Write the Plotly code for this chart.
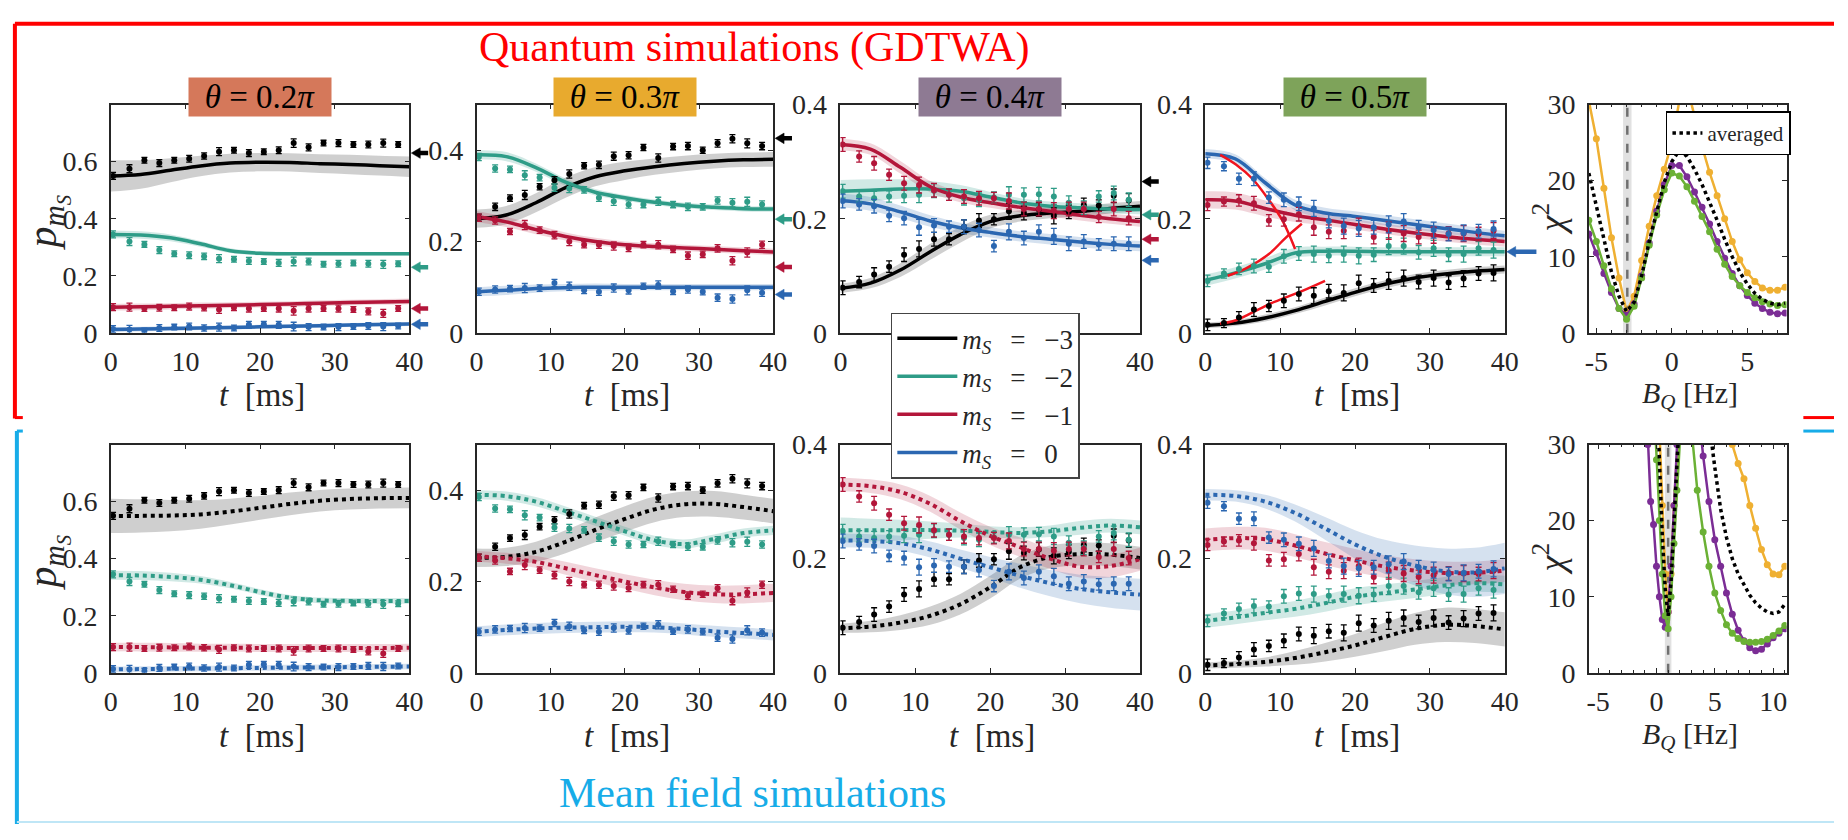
import plotly.graph_objects as go

W, H = 1848, 840
SERIF = "Liberation Serif, Times New Roman, serif"
AXC = "#262626"

# ---------------- data ----------------
t_exp = [0.3, 2.5, 4.5, 6.5, 8.5, 10.5, 12.5, 14.5, 16.5, 18.5, 20.5, 22.5, 24.5, 26.5, 28.5, 30.5, 32.5, 34.5, 36.5, 38.5]
t_th = [0, 4, 8, 12, 16, 20, 24, 28, 32, 36, 40]

# experiment, theta = 0.2 pi
exp_02_m3 = [0.55, 0.575, 0.605, 0.595, 0.605, 0.61, 0.62, 0.635, 0.64, 0.63, 0.635, 0.64, 0.665, 0.65, 0.665, 0.665, 0.66, 0.66, 0.665, 0.66]
exp_02_m2 = [0.345, 0.32, 0.31, 0.29, 0.277, 0.272, 0.268, 0.26, 0.258, 0.252, 0.25, 0.245, 0.25, 0.25, 0.24, 0.242, 0.245, 0.242, 0.24, 0.242]
exp_02_m1 = [0.09, 0.09, 0.085, 0.088, 0.088, 0.092, 0.088, 0.082, 0.088, 0.085, 0.085, 0.085, 0.077, 0.085, 0.085, 0.085, 0.082, 0.075, 0.068, 0.085]
exp_02_m0 = [0.013, 0.012, 0.006, 0.017, 0.02, 0.022, 0.017, 0.02, 0.017, 0.028, 0.03, 0.028, 0.022, 0.02, 0.02, 0.02, 0.022, 0.024, 0.022, 0.024]
err_02 = [0.012, 0.014, 0.01, 0.012, 0.01, 0.012, 0.011, 0.014, 0.01, 0.012, 0.01, 0.012, 0.015, 0.012, 0.01, 0.012, 0.01, 0.012, 0.014, 0.01]
# experiment, theta = 0.3 pi
exp_03_m3 = [0.252, 0.276, 0.295, 0.302, 0.32, 0.334, 0.348, 0.366, 0.368, 0.387, 0.389, 0.406, 0.383, 0.408, 0.409, 0.4, 0.415, 0.425, 0.415, 0.409]
exp_03_m2 = [0.385, 0.36, 0.358, 0.345, 0.34, 0.318, 0.316, 0.313, 0.296, 0.288, 0.281, 0.281, 0.288, 0.281, 0.276, 0.276, 0.29, 0.285, 0.287, 0.281]
exp_03_m1 = [0.252, 0.246, 0.222, 0.236, 0.225, 0.214, 0.2, 0.193, 0.193, 0.19, 0.186, 0.193, 0.193, 0.183, 0.169, 0.172, 0.185, 0.158, 0.176, 0.193]
exp_03_m0 = [0.09, 0.095, 0.097, 0.098, 0.098, 0.109, 0.102, 0.093, 0.09, 0.098, 0.093, 0.102, 0.105, 0.091, 0.095, 0.09, 0.077, 0.074, 0.093, 0.088]
err_03 = [0.008, 0.008, 0.007, 0.01, 0.007, 0.008, 0.009, 0.007, 0.008, 0.009, 0.008, 0.007, 0.009, 0.007, 0.008, 0.007, 0.008, 0.009, 0.01, 0.008]
# experiment, theta = 0.4 pi
exp_04_m3 = [0.079, 0.089, 0.102, 0.116, 0.137, 0.147, 0.164, 0.164, 0.186, 0.197, 0.199, 0.213, 0.21, 0.216, 0.205, 0.212, 0.224, 0.223, 0.24, 0.232]
exp_04_m2 = [0.248, 0.239, 0.236, 0.239, 0.24, 0.242, 0.249, 0.242, 0.236, 0.233, 0.237, 0.242, 0.242, 0.243, 0.239, 0.228, 0.219, 0.239, 0.245, 0.233]
exp_04_m1 = [0.33, 0.309, 0.297, 0.277, 0.262, 0.259, 0.25, 0.242, 0.239, 0.236, 0.236, 0.231, 0.217, 0.217, 0.214, 0.217, 0.217, 0.203, 0.217, 0.201]
exp_04_m0 = [0.231, 0.225, 0.222, 0.205, 0.201, 0.185, 0.188, 0.186, 0.186, 0.18, 0.152, 0.177, 0.166, 0.177, 0.169, 0.156, 0.16, 0.155, 0.156, 0.156]
err_04 = [0.012, 0.01, 0.012, 0.01, 0.012, 0.014, 0.012, 0.01, 0.012, 0.012, 0.01, 0.014, 0.012, 0.012, 0.014, 0.012, 0.012, 0.01, 0.012, 0.012]
# experiment, theta = 0.5 pi
exp_05_m3 = [0.014, 0.017, 0.027, 0.041, 0.047, 0.056, 0.068, 0.065, 0.073, 0.07, 0.087, 0.083, 0.091, 0.096, 0.089, 0.096, 0.088, 0.095, 0.104, 0.105]
exp_05_m2 = [0.091, 0.104, 0.112, 0.117, 0.116, 0.134, 0.139, 0.138, 0.135, 0.138, 0.135, 0.137, 0.152, 0.152, 0.141, 0.148, 0.137, 0.138, 0.148, 0.145]
exp_05_m1 = [0.224, 0.23, 0.232, 0.227, 0.197, 0.199, 0.208, 0.185, 0.177, 0.179, 0.187, 0.168, 0.179, 0.174, 0.168, 0.171, 0.174, 0.174, 0.173, 0.179]
exp_05_m0 = [0.298, 0.292, 0.27, 0.27, 0.237, 0.233, 0.226, 0.218, 0.196, 0.187, 0.183, 0.185, 0.19, 0.195, 0.185, 0.18, 0.173, 0.175, 0.178, 0.182]
err_05 = [0.01, 0.008, 0.01, 0.012, 0.01, 0.012, 0.012, 0.014, 0.012, 0.014, 0.014, 0.012, 0.015, 0.014, 0.012, 0.014, 0.012, 0.014, 0.012, 0.014]

# GDTWA (quantum) simulations: mean and half-width of band
gd_02_m3 = [0.55, 0.555, 0.57, 0.585, 0.595, 0.598, 0.597, 0.593, 0.59, 0.586, 0.582]
gd_02_m2 = [0.345, 0.343, 0.333, 0.312, 0.288, 0.279, 0.277, 0.277, 0.277, 0.277, 0.277]
gd_02_m1 = [0.09, 0.091, 0.093, 0.095, 0.097, 0.099, 0.101, 0.104, 0.106, 0.108, 0.11]
gd_02_m0 = [0.012, 0.013, 0.015, 0.017, 0.019, 0.021, 0.023, 0.025, 0.027, 0.029, 0.031]
gdw_02_m3 = [0.055, 0.05, 0.042, 0.036, 0.033, 0.032, 0.032, 0.033, 0.034, 0.035, 0.036]
gdw_02_m2 = [0.014, 0.013, 0.012, 0.01, 0.008, 0.007, 0.006, 0.006, 0.006, 0.006, 0.006]
gdw_02_m1 = [0.012, 0.012, 0.011, 0.011, 0.01, 0.01, 0.01, 0.01, 0.01, 0.01, 0.01]
gdw_02_m0 = [0.008, 0.008, 0.008, 0.007, 0.007, 0.007, 0.007, 0.007, 0.007, 0.007, 0.007]

gd_03_m3 = [0.25, 0.258, 0.285, 0.318, 0.342, 0.355, 0.364, 0.371, 0.376, 0.379, 0.38]
gd_03_m2 = [0.39, 0.386, 0.362, 0.33, 0.308, 0.296, 0.286, 0.279, 0.275, 0.272, 0.271]
gd_03_m1 = [0.255, 0.243, 0.226, 0.211, 0.2, 0.193, 0.189, 0.186, 0.183, 0.18, 0.177]
gd_03_m0 = [0.09, 0.093, 0.097, 0.099, 0.1, 0.1, 0.1, 0.1, 0.1, 0.1, 0.1]
gdw_03_m3 = [0.02, 0.02, 0.021, 0.022, 0.021, 0.02, 0.018, 0.017, 0.016, 0.016, 0.016]
gdw_03_m2 = [0.01, 0.01, 0.009, 0.008, 0.007, 0.006, 0.006, 0.006, 0.006, 0.006, 0.006]
gdw_03_m1 = [0.012, 0.011, 0.01, 0.009, 0.008, 0.007, 0.007, 0.007, 0.007, 0.007, 0.007]
gdw_03_m0 = [0.01, 0.01, 0.009, 0.008, 0.008, 0.007, 0.007, 0.007, 0.007, 0.007, 0.007]

gd_04_m3 = [0.078, 0.087, 0.11, 0.142, 0.172, 0.195, 0.205, 0.21, 0.213, 0.218, 0.222]
gd_04_m2 = [0.248, 0.25, 0.252, 0.252, 0.248, 0.238, 0.228, 0.222, 0.219, 0.217, 0.216]
gd_04_m1 = [0.33, 0.322, 0.29, 0.256, 0.238, 0.228, 0.22, 0.213, 0.206, 0.2, 0.195]
gd_04_m0 = [0.232, 0.226, 0.212, 0.196, 0.184, 0.176, 0.169, 0.164, 0.159, 0.155, 0.152]
gdw_04_m3 = [0.008, 0.009, 0.012, 0.014, 0.014, 0.012, 0.01, 0.009, 0.009, 0.009, 0.009]
gdw_04_m2 = [0.02, 0.019, 0.017, 0.014, 0.011, 0.009, 0.008, 0.008, 0.008, 0.008, 0.008]
gdw_04_m1 = [0.01, 0.01, 0.011, 0.01, 0.009, 0.009, 0.009, 0.009, 0.009, 0.009, 0.009]
gdw_04_m0 = [0.012, 0.012, 0.011, 0.01, 0.009, 0.009, 0.009, 0.009, 0.009, 0.009, 0.009]

gd_05_m3 = [0.013, 0.017, 0.026, 0.039, 0.055, 0.071, 0.085, 0.096, 0.103, 0.108, 0.111]
gd_05_m2 = [0.092, 0.105, 0.121, 0.14, 0.143, 0.143, 0.142, 0.142, 0.142, 0.142, 0.142]
gd_05_m1 = [0.233, 0.231, 0.218, 0.206, 0.198, 0.19, 0.182, 0.175, 0.169, 0.164, 0.16]
gd_05_m0 = [0.314, 0.305, 0.263, 0.224, 0.21, 0.204, 0.197, 0.19, 0.183, 0.176, 0.17]
gdw_05_m3 = [0.005, 0.005, 0.006, 0.006, 0.007, 0.007, 0.007, 0.007, 0.007, 0.007, 0.007]
gdw_05_m2 = [0.01, 0.01, 0.01, 0.009, 0.008, 0.008, 0.008, 0.008, 0.008, 0.008, 0.008]
gdw_05_m1 = [0.015, 0.015, 0.014, 0.012, 0.01, 0.009, 0.009, 0.009, 0.009, 0.009, 0.009]
gdw_05_m0 = [0.008, 0.008, 0.008, 0.009, 0.009, 0.009, 0.009, 0.009, 0.009, 0.009, 0.009]

# mean-field simulations: mean and half-width of band
mf_02_m3 = [0.55, 0.55, 0.551, 0.555, 0.565, 0.578, 0.592, 0.603, 0.609, 0.612, 0.613]
mf_02_m2 = [0.342, 0.341, 0.336, 0.326, 0.307, 0.283, 0.263, 0.254, 0.252, 0.252, 0.252]
mf_02_m1 = [0.09, 0.09, 0.089, 0.088, 0.088, 0.087, 0.087, 0.087, 0.087, 0.087, 0.088]
mf_02_m0 = [0.012, 0.013, 0.014, 0.015, 0.016, 0.017, 0.018, 0.019, 0.02, 0.021, 0.022]
mfw_02_m3 = [0.06, 0.058, 0.055, 0.05, 0.045, 0.042, 0.04, 0.038, 0.037, 0.036, 0.036]
mfw_02_m2 = [0.016, 0.016, 0.015, 0.013, 0.011, 0.01, 0.01, 0.01, 0.01, 0.01, 0.01]
mfw_02_m1 = [0.015, 0.015, 0.015, 0.014, 0.014, 0.014, 0.014, 0.014, 0.014, 0.014, 0.014]
mfw_02_m0 = [0.01, 0.01, 0.01, 0.01, 0.01, 0.01, 0.01, 0.01, 0.01, 0.01, 0.01]

mf_03_m3 = [0.252, 0.254, 0.265, 0.287, 0.313, 0.337, 0.358, 0.369, 0.37, 0.363, 0.354]
mf_03_m2 = [0.39, 0.387, 0.375, 0.354, 0.332, 0.31, 0.29, 0.282, 0.293, 0.306, 0.312]
mf_03_m1 = [0.255, 0.251, 0.243, 0.229, 0.214, 0.2, 0.187, 0.177, 0.172, 0.172, 0.175]
mf_03_m0 = [0.09, 0.094, 0.097, 0.099, 0.1, 0.101, 0.1, 0.096, 0.091, 0.087, 0.083]
mfw_03_m3 = [0.02, 0.02, 0.022, 0.025, 0.027, 0.028, 0.028, 0.028, 0.028, 0.027, 0.027]
mfw_03_m2 = [0.01, 0.01, 0.01, 0.01, 0.01, 0.01, 0.01, 0.01, 0.01, 0.01, 0.01]
mfw_03_m1 = [0.012, 0.012, 0.013, 0.014, 0.015, 0.016, 0.017, 0.018, 0.019, 0.02, 0.02]
mfw_03_m0 = [0.012, 0.012, 0.012, 0.012, 0.012, 0.012, 0.012, 0.012, 0.012, 0.012, 0.012]

mf_04_m3 = [0.078, 0.081, 0.088, 0.1, 0.12, 0.15, 0.185, 0.203, 0.208, 0.207, 0.201]
mf_04_m2 = [0.25, 0.25, 0.25, 0.25, 0.249, 0.247, 0.245, 0.248, 0.254, 0.258, 0.255]
mf_04_m1 = [0.33, 0.327, 0.317, 0.296, 0.266, 0.24, 0.22, 0.2, 0.186, 0.187, 0.199]
mf_04_m0 = [0.232, 0.231, 0.227, 0.216, 0.2, 0.185, 0.17, 0.157, 0.147, 0.141, 0.137]
mfw_04_m3 = [0.008, 0.01, 0.013, 0.016, 0.018, 0.02, 0.02, 0.02, 0.02, 0.02, 0.02]
mfw_04_m2 = [0.022, 0.02, 0.018, 0.015, 0.012, 0.01, 0.01, 0.01, 0.012, 0.012, 0.012]
mfw_04_m1 = [0.012, 0.012, 0.013, 0.014, 0.015, 0.016, 0.017, 0.018, 0.019, 0.02, 0.02]
mfw_04_m0 = [0.012, 0.012, 0.013, 0.014, 0.016, 0.018, 0.021, 0.023, 0.025, 0.027, 0.028]

mf_05_m3 = [0.013, 0.015, 0.019, 0.026, 0.036, 0.048, 0.063, 0.077, 0.084, 0.082, 0.076]
mf_05_m2 = [0.091, 0.097, 0.105, 0.112, 0.122, 0.133, 0.14, 0.146, 0.153, 0.157, 0.155]
mf_05_m1 = [0.233, 0.236, 0.234, 0.223, 0.209, 0.197, 0.186, 0.179, 0.175, 0.175, 0.179]
mf_05_m0 = [0.312, 0.31, 0.3, 0.28, 0.253, 0.225, 0.203, 0.188, 0.178, 0.176, 0.183]
mfw_05_m3 = [0.005, 0.006, 0.008, 0.012, 0.016, 0.02, 0.025, 0.028, 0.03, 0.03, 0.03]
mfw_05_m2 = [0.012, 0.012, 0.013, 0.014, 0.015, 0.015, 0.015, 0.015, 0.015, 0.015, 0.015]
mfw_05_m1 = [0.02, 0.02, 0.02, 0.02, 0.02, 0.02, 0.02, 0.02, 0.02, 0.02, 0.02]
mfw_05_m0 = [0.01, 0.01, 0.012, 0.015, 0.02, 0.025, 0.03, 0.035, 0.04, 0.043, 0.045]

# steady-state arrows (m=-3, -2, -1, 0)
arr_02 = [0.63, 0.23, 0.085, 0.03]
arr_03 = [0.426, 0.249, 0.144, 0.084]
arr_04 = [0.265, 0.207, 0.164, 0.127]
arr_05_m0 = 0.142

# short-time expansions (theta = 0.5 pi)
pt_t_m0 = [2, 4.1, 6.3, 8.6, 10.3, 12.0]
pt_v_m0 = [0.312, 0.295, 0.27, 0.231, 0.197, 0.147]
pt_t_m2 = [3, 5.45, 8.5, 10.7, 12.9]
pt_v_m2 = [0.1, 0.113, 0.138, 0.166, 0.191]
pt_t_m3 = [2, 4.1, 8.5, 12.9, 16]
pt_v_m3 = [0.016, 0.022, 0.05, 0.073, 0.091]

# chi^2 scans
bq_top = [-5.5, -5, -4.5, -4, -3.5, -3, -2.5, -2, -1.5, -1, -0.5, 0, 0.5, 1, 1.5, 2, 2.5, 3, 3.5, 4, 4.5, 5, 5.5, 6, 6.5, 7, 7.5]
chi_top_03 = [30.5, 25.5, 19, 12.5, 7.2, 2.8, 4.8, 9.5, 14, 18, 21.5, 25, 30.5, 32.5, 28.5, 24.5, 21.1, 18, 15, 12, 9.6, 7.9, 6.75, 5.9, 5.6, 5.6, 6.0]
chi_top_04 = [13, 10.5, 7.8, 5.3, 3.2, 2.3, 3.8, 7.5, 11.8, 16, 19.5, 22, 22, 20.5, 18.5, 16.5, 14.3, 12, 9.8, 7.8, 6.2, 4.9, 3.9, 3.2, 2.7, 2.5, 2.6]
chi_top_05 = [14.8, 12, 8.8, 5.8, 3.2, 1.8, 3.5, 7.2, 11.5, 15.5, 18.8, 21, 20.6, 19.2, 17.3, 15.3, 13.3, 11, 9, 7.4, 6.2, 5.3, 4.6, 4.1, 3.8, 3.6, 3.7]
chi_top_avg = [21, 16.5, 12, 8, 4.8, 2.8, 4, 7.5, 12, 16, 19.8, 22.5, 24, 23.2, 21.5, 19.5, 17.2, 14.8, 12.3, 10, 8, 6.4, 5.2, 4.4, 3.9, 3.7, 3.9]
bq_best_top = -2.95
bq_err_top = 0.28

bq_bot = [-1, -0.75, -0.5, -0.25, 0, 0.25, 0.5, 0.75, 1, 1.25, 1.5, 1.75, 2, 2.25, 2.5, 3, 3.5, 4, 4.5, 5, 5.5, 6, 6.5, 7, 7.5, 8, 8.5, 9, 9.5, 10, 10.5, 11]
chi_bot_03 = [80, 70, 62, 53, 45, 32, 22, 13, 8, 13, 22, 31, 40, 48, 55, 60, 58, 52, 46, 41, 36.5, 33, 30, 27.5, 25.5, 22, 19, 16.2, 14.2, 13, 12.9, 14]
chi_bot_04 = [40, 30, 22.5, 19.5, 14, 10, 7, 6, 8, 14, 22, 30, 38, 45, 50, 48, 36, 28.5, 22.5, 17.5, 14, 10.5, 7.7, 5.6, 4.2, 3.3, 2.9, 3.1, 3.8, 4.6, 5.2, 5.8]
chi_bot_05 = [60, 52, 44, 36, 28, 20, 13, 7.5, 5.8, 10, 17, 24, 31, 37, 40, 31.5, 24, 18.5, 14, 10.5, 8.2, 6.3, 5.2, 4.5, 4.1, 4.0, 4.0, 4.1, 4.4, 4.9, 5.5, 6.2]
chi_bot_avg = [70, 60, 52, 45, 40, 28, 18, 11, 7.5, 12, 20, 28, 36, 44, 50, 52, 45, 38, 33, 27, 21.5, 17.8, 15, 13, 11.5, 10.2, 9.2, 8.5, 8.0, 7.8, 8.0, 9.0]
bq_best_bot = 1.0
bq_err_bot = 0.28

theta_labels = ["0.2", "0.3", "0.4", "0.5"]
theta_colors = ["#D5785A", "#E8AA2E", "#8E7A93", "#7EA35A"]
species = ["m3", "m2", "m1", "m0"]
SP = "\u2002\u2009"
legend_names = [f"<i>m<sub>S</sub></i>{SP}={SP}−3", f"<i>m<sub>S</sub></i>{SP}={SP}−2",
                f"<i>m<sub>S</sub></i>{SP}={SP}−1", f"<i>m<sub>S</sub></i>{SP}={SP}0"]
col = {"m3": "#000000", "m2": "#2E9C87", "m1": "#B3163A", "m0": "#2B67B1"}
band = {"m3": "rgba(140,140,140,0.42)", "m2": "rgba(46,156,135,0.22)",
        "m1": "rgba(179,22,58,0.18)", "m0": "rgba(43,103,177,0.2)"}
chi_col = {"03": "#EFB032", "04": "#7B2D95", "05": "#6BB135"}

g = globals()
keys = ["02", "03", "04", "05"]
EXP = {k: {s: g[f"exp_{k}_{s}"] for s in species} for k in keys}
ERR = {k: g[f"err_{k}"] for k in keys}
GD = {k: {s: (g[f"gd_{k}_{s}"], g[f"gdw_{k}_{s}"]) for s in species} for k in keys}
MF = {k: {s: (g[f"mf_{k}_{s}"], g[f"mfw_{k}_{s}"]) for s in species} for k in keys}
ARR = {"02": arr_02, "03": arr_03, "04": arr_04}
YR = {"02": [0, 0.8], "03": [0, 0.5], "04": [0, 0.4], "05": [0, 0.4]}
YT = {"02": [0, 0.2, 0.4, 0.6], "03": [0, 0.2, 0.4], "04": [0, 0.2, 0.4], "05": [0, 0.2, 0.4]}
t_ticks = [0, 10, 20, 30, 40]

# ---------------- layout geometry (pixels) ----------------
cols = [(105, 407), (475, 775), (843, 1146), (1212, 1515), (1600, 1800)]
rows = [(93, 330), (446, 683)]


def px(x):
    return x / W


def py(y):
    return 1 - y / H


def aid(r, c):
    return r * 5 + c + 1


def xn(i):
    return "x" if i == 1 else f"x{i}"


def yn(i):
    return "y" if i == 1 else f"y{i}"


fig = go.Figure()
layout = {}
annotations = []
shapes = []

common = dict(showline=True, linecolor=AXC, linewidth=1.5, mirror="ticks", ticks="inside",
              ticklen=5, tickwidth=1.2, tickcolor=AXC, showgrid=False, zeroline=False,
              tickfont=dict(family=SERIF, size=28, color=AXC), fixedrange=True)

for r in range(2):
    for c in range(5):
        i = aid(r, c)
        xa = dict(common, domain=[px(cols[c][0]), px(cols[c][1])], anchor=yn(i), ticklabelstandoff=3)
        ya = dict(common, domain=[py(rows[r][1]), py(rows[r][0])], anchor=xn(i), ticklabelstandoff=6)
        if c < 4:
            k = keys[c]
            if r == 0 and c == 2:
                # middle labels are covered by the legend box in the original
                ttext = [str(t_ticks[0]), "", "", "", str(t_ticks[-1])]
            else:
                ttext = [str(v) for v in t_ticks]
            xa.update(range=[0, 40], tickvals=t_ticks, ticktext=ttext)
            ya.update(range=YR[k], tickvals=YT[k])
        else:
            if r == 0:
                xa.update(range=[-5.5, 7.6], tickvals=[-5, 0, 5], ticktext=["-5", "0", "5"])
            else:
                xa.update(range=[-5.8, 11.15], tickvals=[-5, 0, 5, 10], ticktext=["-5", "0", "5", "10"])
            xa.update(minor=dict(ticks="inside", dtick=1, ticklen=3, tickcolor=AXC))
            ya.update(range=[0, 30], tickvals=[0, 10, 20, 30])
        layout["xaxis" if i == 1 else f"xaxis{i}"] = xa
        layout["yaxis" if i == 1 else f"yaxis{i}"] = ya


def add_arrow(c, yref, yval, color, length, yspan):
    """Left-pointing arrow just right of panel column c, at data value yval."""
    tip = cols[c][1] + 2
    head = 9
    dy = 5.5 * yspan / (rows[0][1] - rows[0][0])
    shapes.append(dict(type="line", xref="paper", yref=yref, x0=px(tip + head - 1), x1=px(tip + length),
                       y0=yval, y1=yval, line=dict(color=color, width=4.5), layer="above"))
    path = (f"M {px(tip)},{yval} L {px(tip + head)},{yval + dy} "
            f"L {px(tip + head)},{yval - dy} Z")
    shapes.append(dict(type="path", xref="paper", yref=yref, path=path, fillcolor=color,
                       line=dict(color=color, width=0.5), layer="above"))


# ---------------- time-evolution panels ----------------
for r in range(2):
    for c in range(4):
        k = keys[c]
        i = aid(r, c)
        sim = GD[k] if r == 0 else MF[k]
        for s in species:
            m, w = sim[s]
            lo = [a - b for a, b in zip(m, w)]
            hi = [a + b for a, b in zip(m, w)]
            fig.add_trace(go.Scatter(x=t_th, y=lo, mode="lines", line=dict(width=0, shape="spline"),
                                     xaxis=xn(i), yaxis=yn(i), showlegend=False, hoverinfo="skip"))
            fig.add_trace(go.Scatter(x=t_th, y=hi, mode="lines", line=dict(width=0, shape="spline"),
                                     fill="tonexty", fillcolor=band[s],
                                     xaxis=xn(i), yaxis=yn(i), showlegend=False, hoverinfo="skip"))
        for j, s in enumerate(species):
            m, w = sim[s]
            fig.add_trace(go.Scatter(
                x=t_th, y=m, mode="lines",
                line=dict(color=col[s], width=3.5 if r == 0 else 4,
                          dash="solid" if r == 0 else "dot", shape="spline"),
                xaxis=xn(i), yaxis=yn(i), name=legend_names[j],
                showlegend=(r == 0 and c == 0), legend="legend"))
        if r == 0 and c == 3:
            for tt, vv in ((pt_t_m0, pt_v_m0), (pt_t_m2, pt_v_m2), (pt_t_m3, pt_v_m3)):
                fig.add_trace(go.Scatter(x=tt, y=vv, mode="lines",
                                         line=dict(color="#F0141E", width=2.5, shape="spline"),
                                         xaxis=xn(i), yaxis=yn(i), showlegend=False))
        for s in species:
            fig.add_trace(go.Scatter(
                x=t_exp, y=EXP[k][s], mode="markers",
                marker=dict(color=col[s], size=6),
                error_y=dict(type="data", array=ERR[k], color=col[s], thickness=1.3, width=3),
                xaxis=xn(i), yaxis=yn(i), showlegend=False))
        # arrows (top row only)
        if r == 0:
            span = YR[k][1] - YR[k][0]
            if c < 3:
                for j, s in enumerate(species):
                    add_arrow(c, yn(i), ARR[k][j], col[s], 17, span)
            else:
                add_arrow(c, yn(i), arr_05_m0, col["m0"], 30, span)

# ---------------- chi^2 panels ----------------
for r in range(2):
    i = aid(r, 4)
    bq = bq_top if r == 0 else bq_bot
    best, err = (bq_best_top, bq_err_top) if r == 0 else (bq_best_bot, bq_err_bot)
    shapes.append(dict(type="rect", xref=xn(i), yref=f"{yn(i)} domain", x0=best - err, x1=best + err,
                       y0=0, y1=1, fillcolor="rgba(200,200,200,0.55)", line=dict(width=0), layer="below"))
    shapes.append(dict(type="line", xref=xn(i), yref=f"{yn(i)} domain", x0=best, x1=best, y0=0, y1=1,
                       line=dict(color="#707070", width=2.5, dash="dash"), layer="below"))
    for k in ["03", "04", "05"]:
        yv = g[f"chi_{'top' if r == 0 else 'bot'}_{k}"]
        fig.add_trace(go.Scatter(x=bq, y=yv, mode="lines+markers",
                                 line=dict(color=chi_col[k], width=2.5),
                                 marker=dict(color=chi_col[k], size=7),
                                 xaxis=xn(i), yaxis=yn(i), showlegend=False))
    yv = chi_top_avg if r == 0 else chi_bot_avg
    fig.add_trace(go.Scatter(x=bq, y=yv, mode="lines", line=dict(color="black", width=3.5, dash="dot"),
                             xaxis=xn(i), yaxis=yn(i), name="averaged",
                             showlegend=(r == 0), legend="legend2"))

# ---------------- texts ----------------
for c in range(4):
    cx = (cols[c][0] + cols[c][1]) / 2
    annotations.append(dict(x=px(cx), y=py(85), xref="paper", yref="paper", xanchor="center", yanchor="middle",
                            text=f"<i>θ</i> = {theta_labels[c]}<i>π</i>", showarrow=False,
                            bgcolor=theta_colors[c], width=136, height=32, borderpad=3,
                            font=dict(family=SERIF, size=33, color="black")))

for r in range(2):
    yl = 395 if r == 0 else 749
    for c in range(4):
        if r == 0 and c == 2:
            continue  # hidden behind the legend box in the original figure
        cx = (cols[c][0] + cols[c][1]) / 2
        annotations.append(dict(x=px(cx + 2), y=py(yl), xref="paper", yref="paper", xanchor="center",
                                yanchor="middle", text="<i>t</i>\u2002[ms]", showarrow=False,
                                font=dict(family=SERIF, size=33, color=AXC)))
    annotations.append(dict(x=px(1702), y=py(yl), xref="paper", yref="paper", xanchor="center",
                            yanchor="middle", text="<i>B<sub>Q</sub></i> [Hz]", showarrow=False,
                            font=dict(family=SERIF, size=30, color=AXC)))
    yc = 216 if r == 0 else 569
    annotations.append(dict(x=px(40), y=py(yc), xref="paper", yref="paper", xanchor="center",
                            yanchor="middle", text="<i>p<sub>m<sub>S</sub></sub></i>", textangle=-90,
                            showarrow=False, font=dict(family=SERIF, size=42, color=AXC)))
    yc2 = 212 if r == 0 else 565
    annotations.append(dict(x=px(1560), y=py(yc2), xref="paper", yref="paper", xanchor="center",
                            yanchor="middle", text="<i>χ</i><sup>2</sup>", textangle=-90,
                            showarrow=False, font=dict(family=SERIF, size=36, color=AXC)))

annotations.append(dict(x=px(756), y=py(34), xref="paper", yref="paper", xanchor="center", yanchor="middle",
                        text="Quantum simulations (GDTWA)", showarrow=False,
                        font=dict(family=SERIF, size=42, color="#FF0000")))
annotations.append(dict(x=px(754), y=py(808), xref="paper", yref="paper", xanchor="center", yanchor="middle",
                        text="Mean field simulations", showarrow=False,
                        font=dict(family=SERIF, size=42, color="#17ACE8")))

# ---------------- frames ----------------
RED, CY = "#FF0000", "#17ACE8"


def seg(x0, y0, x1, y1, color, w):
    shapes.append(dict(type="line", xref="paper", yref="paper", x0=px(x0), y0=py(y0), x1=px(x1), y1=py(y1),
                       line=dict(color=color, width=w), layer="above"))


seg(8, 9, 1848, 9, RED, 4)
seg(8, 9, 8, 419, RED, 4)
seg(8, 418, 16, 418, RED, 3)
seg(1817, 418, 1848, 418, RED, 3)
seg(10, 432, 10, 840, CY, 4)
seg(10, 432, 16, 432, CY, 3)
seg(1817, 432, 1848, 432, CY, 3)
seg(10, 838, 1848, 838, "#BFE6F6", 2)

layout.update(
    width=W, height=H, margin=dict(l=0, r=0, t=0, b=0),
    paper_bgcolor="white", plot_bgcolor="white",
    annotations=annotations, shapes=shapes,
    legend=dict(x=px(894), y=py(309), xanchor="left", yanchor="top", bgcolor="white",
                bordercolor="#444444", borderwidth=1.5, font=dict(family=SERIF, size=27, color=AXC),
                itemwidth=60, tracegroupgap=0, traceorder="normal"),
    legend2=dict(x=px(1678), y=py(100), xanchor="left", yanchor="top", bgcolor="white",
                 bordercolor="black", borderwidth=1.5, font=dict(family=SERIF, size=21, color=AXC),
                 itemwidth=30),
)
fig.update_layout(layout)
fig.write_html("out.html")
